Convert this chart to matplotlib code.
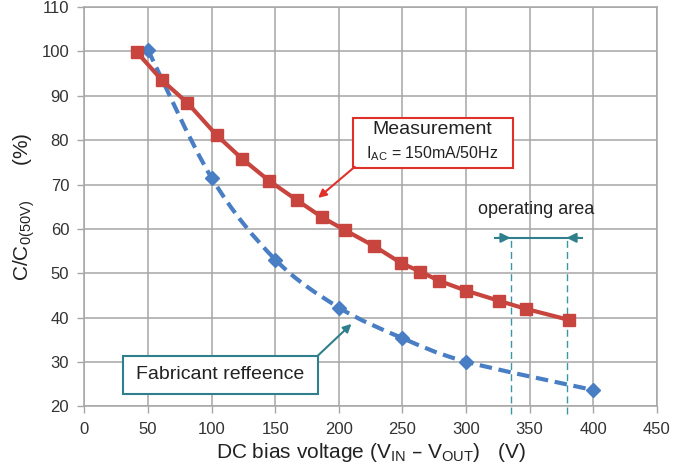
import numpy as np
import matplotlib
matplotlib.use('Agg')
import matplotlib.pyplot as plt
from matplotlib.path import Path
from matplotlib.patches import PathPatch, Rectangle

plt.rcParams['font.family'] = ['Liberation Sans', 'DejaVu Sans']
plt.rcParams['mathtext.default'] = 'regular'

# measured curve (red squares)
meas_x = [41, 61, 81, 104, 124, 145, 167, 187, 205, 228, 249, 264, 279, 300, 326, 347, 381]
meas_y = [99.9, 93.5, 88.4, 81.1, 75.8, 70.9, 66.5, 62.6, 59.7, 56.1, 52.3, 50.4, 48.3, 46.1, 43.8, 42.0, 39.5]

# fabricant reference (blue diamonds)
ref_x = [50, 100, 150, 200, 250, 300, 400]
ref_y = [100.3, 71.5, 53.1, 42.3, 35.4, 30.1, 23.7]

# operating area limits
op_lo, op_hi = 335, 379

red = '#c8453f'
blue = '#4a7ec4'
teal = '#2f7f8c'
grid_c = '#a6a6a6'

fig = plt.figure(figsize=(6.98, 4.71), dpi=100)
ax = fig.add_axes([0.121, 0.137, 0.820, 0.848])

ax.set_xlim(0, 450)
ax.set_ylim(20, 110)
ax.set_xticks(np.arange(0, 451, 50))
ax.set_yticks(np.arange(20, 111, 10))
ax.grid(True, color=grid_c, linewidth=1.1)
ax.set_axisbelow(True)
for s in ax.spines.values():
    s.set_color(grid_c)
    s.set_linewidth(1.1)
ax.tick_params(direction='out', length=5, width=1, color=grid_c,
               labelsize=12, labelcolor='#333333', pad=6)

# smooth line through reference points (catmull-rom -> bezier)
px = np.array(ref_x, float)
py = np.array(ref_y, float)
verts = [(px[0], py[0])]
codes = [Path.MOVETO]
n = len(px)
for i in range(n - 1):
    p0 = np.array([px[max(i - 1, 0)], py[max(i - 1, 0)]])
    p1 = np.array([px[i], py[i]])
    p2 = np.array([px[i + 1], py[i + 1]])
    p3 = np.array([px[min(i + 2, n - 1)], py[min(i + 2, n - 1)]])
    c1 = p1 + (p2 - p0) / 6.0
    c2 = p2 - (p3 - p1) / 6.0
    verts += [tuple(c1), tuple(c2), tuple(p2)]
    codes += [Path.CURVE4] * 3
ax.add_patch(PathPatch(Path(verts, codes), fill=False, edgecolor=blue,
                       linewidth=3, linestyle=(0, (3, 1.6)), zorder=3))
ax.plot(ref_x, ref_y, linestyle='none', marker='D', markersize=7,
        color=blue, zorder=4)

# measured
ax.plot(meas_x, meas_y, color=red, linewidth=3, marker='s', markersize=9,
        zorder=5)

# operating area
for xv in (op_lo, op_hi):
    ax.plot([xv, xv], [18.3, 58], color='#3a95a5', linewidth=1, linestyle=(0, (5, 3)),
            clip_on=False, zorder=2)
ax.plot([323, 391], [58, 58], color=teal, linewidth=1.5, zorder=6)
ax.annotate('', xy=(op_lo, 58), xytext=(op_lo - 10, 58),
            arrowprops=dict(arrowstyle='-|>', color=teal, lw=1.5,
                            mutation_scale=14, shrinkA=0, shrinkB=0), zorder=6)
ax.annotate('', xy=(op_hi, 58), xytext=(op_hi + 10, 58),
            arrowprops=dict(arrowstyle='-|>', color=teal, lw=1.5,
                            mutation_scale=14, shrinkA=0, shrinkB=0), zorder=6)
ax.text(355, 64.4, 'operating area', ha='center', va='center', fontsize=13,
        color='#222222', zorder=7)

# measurement callout
ax.add_patch(Rectangle((211, 73.8), 125.6, 11.3, facecolor='white',
                       edgecolor='#e0302a', linewidth=1.5, zorder=7))
ax.annotate('', xy=(183.7, 67), xytext=(212.5, 74),
            arrowprops=dict(arrowstyle='-|>', color='#e0302a', lw=1.5,
                            mutation_scale=12, shrinkA=0, shrinkB=0), zorder=7)
ax.text(273.8, 82.3, 'Measurement', ha='center', va='center', fontsize=14,
        color='#222222', zorder=8)
ax.text(273.8, 77.0, 'I$_{AC}$ = 150mA/50Hz', ha='center', va='center',
        fontsize=11.5, color='#222222', zorder=8)

# fabricant callout
ax.add_patch(Rectangle((30.3, 22.8), 153, 8.6, facecolor='white',
                       edgecolor=teal, linewidth=1.5, zorder=7))
ax.annotate('', xy=(209.9, 38.6), xytext=(183.3, 31.4),
            arrowprops=dict(arrowstyle='-|>', color=teal, lw=1.5,
                            mutation_scale=12, shrinkA=0, shrinkB=0), zorder=7)
ax.text(106.5, 27.1, 'Fabricant reffeence', ha='center', va='center',
        fontsize=14, color='#222222', zorder=8)

ax.set_xlabel('DC bias voltage (V$_{IN}$ – V$_{OUT}$)   (V)', fontsize=15,
              color='#222222', labelpad=3)
ax.set_ylabel('C/C$_{0(50V)}$      (%)', fontsize=15, color='#222222',
              labelpad=3)

fig.savefig('out.png', dpi=100)
